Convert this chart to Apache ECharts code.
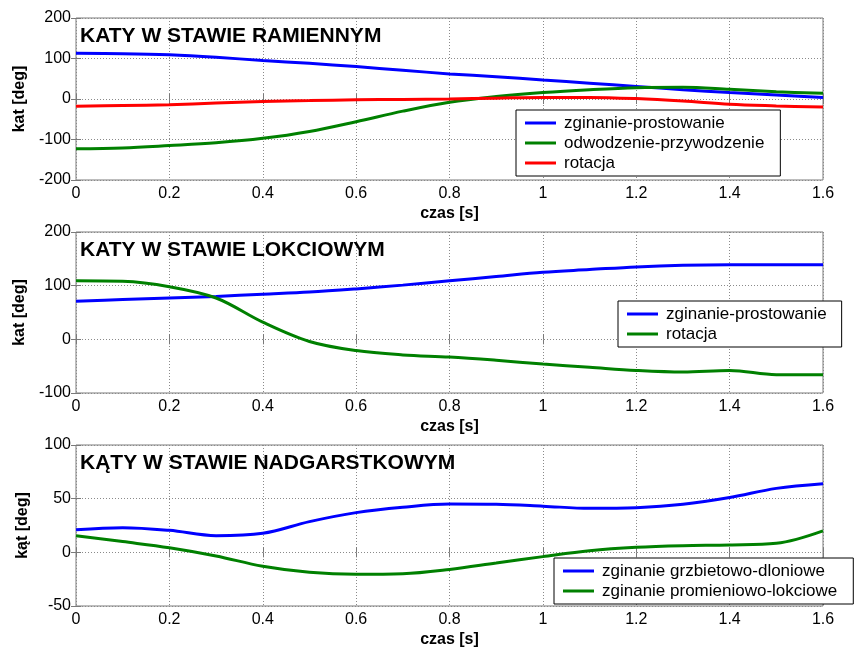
<!DOCTYPE html>
<html>
<head>
<meta charset="utf-8">
<script src="https://cdn.jsdelivr.net/npm/echarts@6/dist/echarts.min.js"></script>
<style>
html,body{margin:0;padding:0;background:#fff;}
#c{width:857px;height:652px;}
</style>
</head>
<body>
<div id="c"></div>
<script>
// time axis [s]
const time = [0,0.1,0.2,0.3,0.4,0.5,0.6,0.7,0.8,0.9,1.0,1.1,1.2,1.3,1.4,1.5,1.6];
const xTicks = {min:0, max:1.6, interval:0.2};

// Panel 1: shoulder
const shoulderFlex = [113,112,109,103,95,88,80,71,62,55,47,39,31,23,16,10,4];
const shoulderAbd  = [-123,-121,-115,-108,-97,-80,-56,-30,-8,6,16,23,28,29,24,18,14];
const shoulderRot  = [-18,-16,-14,-10,-6,-4,-2,-1,0,2,4,4,1,-5,-13,-17,-20];

// Panel 2: elbow
const elbowFlex = [71,74,77,80,84,88,94,101,109,117,125,130,135,138,139,139,139];
const elbowRot  = [109,108,98,77,32,-4,-21,-29,-33,-39,-46,-52,-58,-61,-58,-66,-66];

// Panel 3: wrist
const wristFlex = [21,23,20.5,15.5,17.7,28.6,37,42,45,44.7,43,41,41.6,44.7,51,59.6,64];
const wristDev  = [15.5,10,4.3,-3.4,-13,-18.6,-20.5,-20,-16,-10,-4,1.5,4.7,6.2,6.8,8.4,20];

const titles = ['KATY W STAWIE RAMIENNYM','KATY W STAWIE LOKCIOWYM','KĄTY W STAWIE NADGARSTKOWYM'];
const yNames = ['kat [deg]','kat [deg]','kąt [deg]'];
const xName = 'czas [s]';
const yRanges = [[-200,200,100],[-100,200,100],[-50,100,50]];

const BLUE='#0000ff', GREEN='#008000', RED='#ff0000';
const FONT='Liberation Sans, Arial, sans-serif';
const BOX='#7a7a7a';

const gridTops=[18,232,445];
const gridHeights=[162,161,161];

const grids=[], xAxes=[], yAxes=[], series=[], legends=[], titleOpts=[];

function pairs(arr){ return time.map((t,i)=>[t,arr[i]]); }

for(let g=0; g<3; g++){
  grids.push({left:76,right:34,top:gridTops[g],height:gridHeights[g],show:true,borderColor:BOX,borderWidth:1,backgroundColor:'#fff'});
  xAxes.push({
    type:'value',gridIndex:g,min:xTicks.min,max:xTicks.max,interval:xTicks.interval,
    name:xName,nameLocation:'middle',nameGap:26,
    nameTextStyle:{fontFamily:FONT,fontSize:16,fontWeight:'bold',color:'#000'},
    axisLine:{show:false},
    axisTick:{show:true,inside:true,length:5,lineStyle:{color:BOX}},
    axisLabel:{fontFamily:FONT,fontSize:16,color:'#000',margin:6},
    splitLine:{show:true,lineStyle:{type:[1,2],color:'#8a8a8a',width:1}}
  });
  xAxes.push({
    type:'value',gridIndex:g,position:'top',min:xTicks.min,max:xTicks.max,interval:xTicks.interval,
    axisLine:{show:false},axisTick:{show:true,inside:true,length:5,lineStyle:{color:BOX}},
    axisLabel:{show:false},splitLine:{show:false}
  });
  const [ymin,ymax,yint]=yRanges[g];
  yAxes.push({
    type:'value',gridIndex:g,min:ymin,max:ymax,interval:yint,
    name:yNames[g],nameLocation:'middle',nameGap:45,
    nameTextStyle:{fontFamily:FONT,fontSize:16,fontWeight:'bold',color:'#000'},
    axisLine:{show:false},
    axisTick:{show:true,inside:true,length:5,lineStyle:{color:BOX}},
    axisLabel:{fontFamily:FONT,fontSize:16,color:'#000',margin:5},
    splitLine:{show:true,lineStyle:{type:[1,2],color:'#8a8a8a',width:1}}
  });
  yAxes.push({
    type:'value',gridIndex:g,position:'right',min:ymin,max:ymax,interval:yint,
    axisLine:{show:false},axisTick:{show:true,inside:true,length:5,lineStyle:{color:BOX}},
    axisLabel:{show:false},splitLine:{show:false}
  });
  titleOpts.push({text:titles[g],left:80,top:gridTops[g]+8,
    textStyle:{fontFamily:FONT,fontSize:21,fontWeight:'bold',color:'#000'},padding:0});
}

function line(name,color,g,arr){
  return {type:'line',name:name,xAxisIndex:g*2,yAxisIndex:g*2,data:pairs(arr),
    smooth:0.35,showSymbol:false,symbol:'none',color:color,
    lineStyle:{color:color,width:3},silent:true,animation:false,z:3};
}

series.push(line('zginanie-prostowanie#1',BLUE,0,shoulderFlex));
series.push(line('odwodzenie-przywodzenie#1',GREEN,0,shoulderAbd));
series.push(line('rotacja#1',RED,0,shoulderRot));
series.push(line('zginanie-prostowanie#2',BLUE,1,elbowFlex));
series.push(line('rotacja#2',GREEN,1,elbowRot));
series.push(line('zginanie grzbietowo-dloniowe#3',BLUE,2,wristFlex));
series.push(line('zginanie promieniowo-lokciowe#3',GREEN,2,wristDev));

function legend(names,left,top,padRight){
  return {orient:'vertical',left:left,top:top,data:names.map(n=>({name:n,icon:'rect'})),
    formatter:n=>n.split('#')[0],
    backgroundColor:'#fff',borderColor:'#000',borderWidth:1,borderRadius:0,
    padding:[3,padRight,3,9],itemWidth:31,itemHeight:3,itemGap:0,
    selectedMode:false,
    textStyle:{fontFamily:FONT,fontSize:17,color:'#000',lineHeight:20,padding:[0,0,0,3]},
    z:10};
}
legends.push(legend(['zginanie-prostowanie#1','odwodzenie-przywodzenie#1','rotacja#1'],516,110,16));
legends.push(legend(['zginanie-prostowanie#2','rotacja#2'],618,301,15));
legends.push(legend(['zginanie grzbietowo-dloniowe#3','zginanie promieniowo-lokciowe#3'],554,558,16));

const chart=echarts.init(document.getElementById('c'),null,{renderer:'canvas'});
chart.setOption({
  backgroundColor:'#fff',
  animation:false,
  title:titleOpts,
  grid:grids,
  xAxis:xAxes,
  yAxis:yAxes,
  legend:legends,
  series:series
});
</script>
</body>
</html>
